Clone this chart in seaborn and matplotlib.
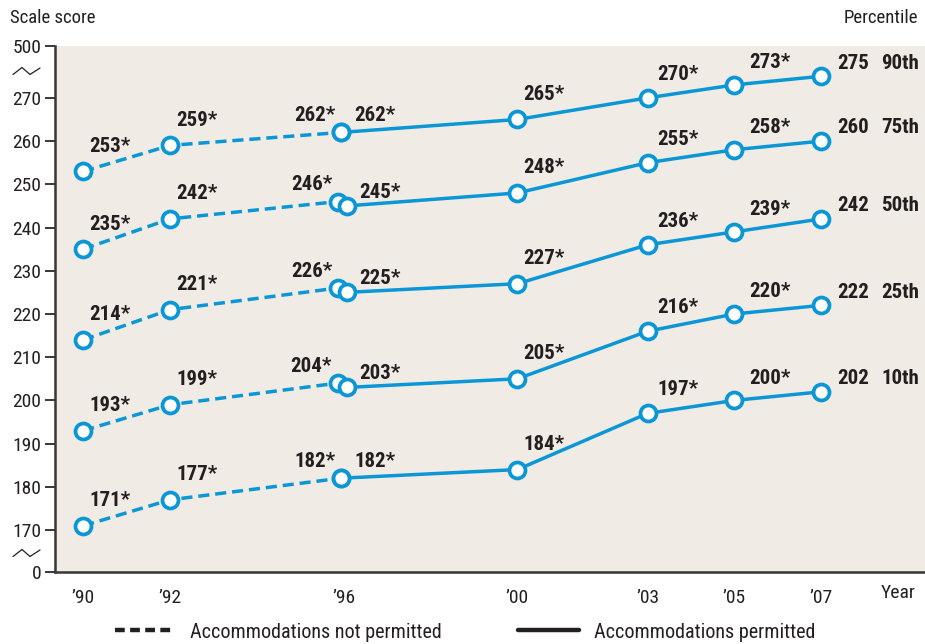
import matplotlib
matplotlib.use("Agg")
import matplotlib.pyplot as plt
from matplotlib.lines import Line2D
from matplotlib import font_manager
import seaborn as sns
import pandas as pd

# ---------------- data ----------------
percentiles = ["90th", "75th", "50th", "25th", "10th"]
years_not_permitted = [1990, 1992, 1996]
years_permitted = [1996, 2000, 2003, 2005, 2007]
tick_years = [1990, 1992, 1996, 2000, 2003, 2005, 2007]
tick_labels = ["\u201990", "\u201992", "\u201996", "\u201900", "\u201903", "\u201905", "\u201907"]

not_permitted = {
    "90th": [253, 259, 262],
    "75th": [235, 242, 246],
    "50th": [214, 221, 226],
    "25th": [193, 199, 204],
    "10th": [171, 177, 182],
}
permitted = {
    "90th": [262, 265, 270, 273, 275],
    "75th": [245, 248, 255, 258, 260],
    "50th": [225, 227, 236, 239, 242],
    "25th": [203, 205, 216, 220, 222],
    "10th": [182, 184, 197, 200, 202],
}
# significance marker (*) per point
sig_not_permitted = [True, True, True]
sig_permitted = [True, True, True, True, False]

ytick_vals = [270, 260, 250, 240, 230, 220, 210, 200, 190, 180, 170]

# ---------------- style ----------------
BLUE = "#0b96d5"
BG = "#f0ece5"
TXT = "#231f20"
sns.set_theme(style="white")
available = set(f.name for f in font_manager.fontManager.ttflist)
pref = ["Roboto Condensed", "Archivo Narrow", "Barlow Condensed", "PT Sans Narrow",
        "Liberation Sans Narrow", "Liberation Sans"]
fam = [f for f in pref if f in available][:1] + ["DejaVu Sans"]
plt.rcParams["font.family"] = fam

fig = plt.figure(figsize=(9.25, 6.44), dpi=100)
ax = fig.add_axes([55 / 925, 72 / 644, 870 / 925, 526 / 644])
ax.set_facecolor(BG)

YLO, YHI = 160.3, 282.0
ax.set_ylim(YLO, YHI)
ax.set_xlim(1989.35, 2009.39)

lw = 2.5
mk = dict(marker="o", markersize=11.5, markerfacecolor="white",
          markeredgecolor=BLUE, markeredgewidth=2.7)

lab_font = dict(fontsize=15, fontweight="bold", color=TXT)

for p in percentiles:
    np_vals = not_permitted[p]
    p_vals = permitted[p]
    shift = 0.0 if np_vals[-1] == p_vals[0] else 0.07
    xs_np = [y if y != 1996 else 1996 - 0.07 - shift for y in years_not_permitted]
    xs_p = [y if y != 1996 else 1996 - 0.07 + 2 * shift for y in years_permitted]
    df_np = pd.DataFrame({"x": xs_np, "y": np_vals})
    df_p = pd.DataFrame({"x": xs_p, "y": p_vals})
    sns.lineplot(data=df_np, x="x", y="y", ax=ax, color=BLUE, lw=lw,
                 linestyle=(0, (3.2, 1.7)), **mk)
    sns.lineplot(data=df_p, x="x", y="y", ax=ax, color=BLUE, lw=lw, **mk)

    # labels: not permitted
    for xv, yv, yr, s in zip(xs_np, np_vals, years_not_permitted, sig_not_permitted):
        t = f"{yv}" + ("*" if s else "")
        if yr == 1996:
            ax.annotate(t, (xv, yv), xytext=(-4, 12), textcoords="offset points",
                        ha="right", va="center", **lab_font)
        else:
            ax.annotate(t, (xv, yv), xytext=(4.5, 18), textcoords="offset points",
                        ha="left", va="center", **lab_font)
    # labels: permitted
    offs = {2000: (4.5, 18), 2003: (7, 17), 2005: (11, 16), 2007: (11.5, 9.5)}
    for xv, yv, yr, s in zip(xs_p, p_vals, years_permitted, sig_permitted):
        t = f"{yv}" + ("*" if s else "")
        if yr == 1996:
            o = (10, 12) if shift == 0 else (9, 10)
        else:
            o = offs[yr]
        ax.annotate(t, (xv, yv), xytext=o, textcoords="offset points",
                    ha="left", va="center", **lab_font)
    # percentile label
    ax.annotate(p, (years_permitted[-1], p_vals[-1]), xytext=(43, 9.5),
                textcoords="offset points", ha="left", va="center", **lab_font)

# axes styling
for s in ["top", "right"]:
    ax.spines[s].set_visible(False)
for s in ["left", "bottom"]:
    ax.spines[s].set_color("#3a3536")
    ax.spines[s].set_linewidth(1.8)

ax.set_yticks([YLO] + ytick_vals + [YHI])
ax.set_yticklabels(["0"] + [str(v) for v in ytick_vals] + ["500"])
ax.tick_params(axis="y", direction="out", length=7, width=1.4, color="#3a3536",
               labelsize=14, labelcolor=TXT, pad=3, left=True)
ax.set_xticks(tick_years)
ax.set_xticklabels(tick_labels)
ax.tick_params(axis="x", length=0, labelsize=14, labelcolor=TXT, pad=12)
ax.set_xlabel("")
ax.set_ylabel("")
ax.grid(False)

# axis break marks (decoration)
for ypx in (71, 553):
    yf = 1 - ypx / 644
    zx = [13 / 925, 22 / 925, 30 / 925, 40 / 925]
    zy = [yf - 3.5 / 644, yf + 3.5 / 644, yf - 3.5 / 644, yf + 3 / 644]
    fig.add_artist(Line2D(zx, zy, color=TXT, lw=0.9, transform=fig.transFigure))

fig.text(10 / 925, 1 - 18 / 644, "Scale score", fontsize=13.5, color=TXT,
         ha="left", va="center")
fig.text(918 / 925, 1 - 18 / 644, "Percentile", fontsize=13.5, color=TXT,
         ha="right", va="center")
fig.text(916 / 925, 1 - 593 / 644, "Year", fontsize=14, color=TXT,
         ha="right", va="center")

handles = [Line2D([], [], color=TXT, lw=3.2, linestyle=(0, (2.2, 1.2))),
           Line2D([], [], color=TXT, lw=3.2)]
fig.legend(handles, ["Accommodations not permitted", "Accommodations permitted"],
           loc="center", bbox_to_anchor=(465 / 925, 1 - 632 / 644), ncol=2,
           frameon=False, fontsize=14.5, handlelength=3.0, handletextpad=0.75,
           columnspacing=3.8, labelcolor=TXT)

fig.savefig("out.png", dpi=100, facecolor="white")
